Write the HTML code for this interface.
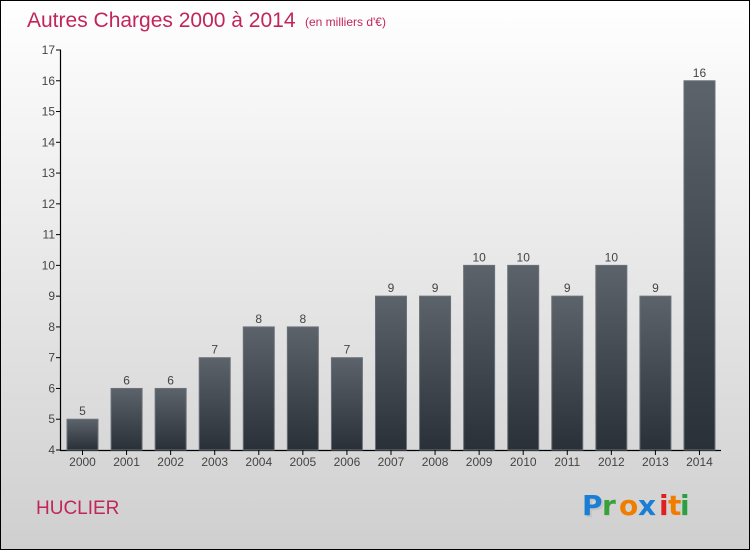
<!DOCTYPE html>
<html><head><style>
body{margin:0;}
svg{display:block;font-family:"Liberation Sans",sans-serif;}
</style></head><body>
<svg width="750" height="550" viewBox="0 0 750 550" xmlns="http://www.w3.org/2000/svg">
<defs>
<linearGradient id="bg" x1="0" y1="0" x2="0" y2="1"><stop offset="0" stop-color="#ffffff"/><stop offset="1" stop-color="#cfcfcf"/></linearGradient>
<linearGradient id="bar" x1="0" y1="0" x2="0" y2="1"><stop offset="0" stop-color="#5c636b"/><stop offset="1" stop-color="#2a3038"/></linearGradient>
</defs>
<rect x="0.5" y="0.5" width="749" height="549" fill="url(#bg)" stroke="#000"/>
<text x="27" y="27" font-size="21" fill="#c2255c">Autres Charges 2000 à 2014</text>
<text x="305" y="26" font-size="12" fill="#c2255c">(en milliers d'€)</text>
<g id="bars"></g>
<line x1="60.5" y1="50" x2="60.5" y2="451" stroke="#000" stroke-width="1.2"/>
<line x1="60" y1="450.5" x2="721" y2="450.5" stroke="#000" stroke-width="1.2"/>
<g font-size="12" fill="#444" text-anchor="end">
<script>/* placeholder */</script>
</g>
<g id="g"></g>
<text x="36" y="514" font-size="19" fill="#c2255c">HUCLIER</text>
<g font-size="28" font-family="'DejaVu Sans',sans-serif" font-weight="bold">
<text x="584" y="517" fill="#bbb" opacity="0.6">P</text>
<text x="582" y="515" fill="#1a7fd4">P</text>
<text x="602" y="515" fill="#3aa03a">r</text>
<text x="619" y="515" fill="#f07d00">o</text>
<text x="638" y="515" fill="#1a7fd4">x</text>
<text x="659" y="515" fill="#e02020">i</text>
<text x="668" y="515" fill="#f07d00">t</text>
<text x="680" y="515" fill="#2aa040">i</text>
</g>
</svg>
<script>
var vals=[5,6,6,7,8,8,7,9,9,10,10,9,10,9,16];
var ns="http://www.w3.org/2000/svg";
var g=document.getElementById("g");
function el(t,a,txt){var e=document.createElementNS(ns,t);for(var k in a)e.setAttribute(k,a[k]);if(txt!=null)e.textContent=txt;g.appendChild(e);return e;}
var y0=450,u=30.77;
for(var v=4;v<=17;v++){var y=y0-(v-4)*u;
el("line",{x1:56,y1:y,x2:61,y2:y,stroke:"#000"});
el("text",{x:55,y:y+4,"font-size":12,fill:"#444","text-anchor":"end"},String(v));}
for(var i=0;i<15;i++){var x=67+i*44.07,h=(vals[i]-4)*u;
el("rect",{x:x,y:y0-h,width:31,height:h,fill:"url(#bar)",stroke:"#6a7178","stroke-width":1});
el("line",{x1:x+15.5,y1:450,x2:x+15.5,y2:455,stroke:"#000"});
el("text",{x:x+15.5,y:466,"font-size":12,fill:"#444","text-anchor":"middle"},String(2000+i));
el("text",{x:x+15.5,y:y0-h-4,"font-size":12,fill:"#444","text-anchor":"middle"},String(vals[i]));}
</script>
</body></html>
